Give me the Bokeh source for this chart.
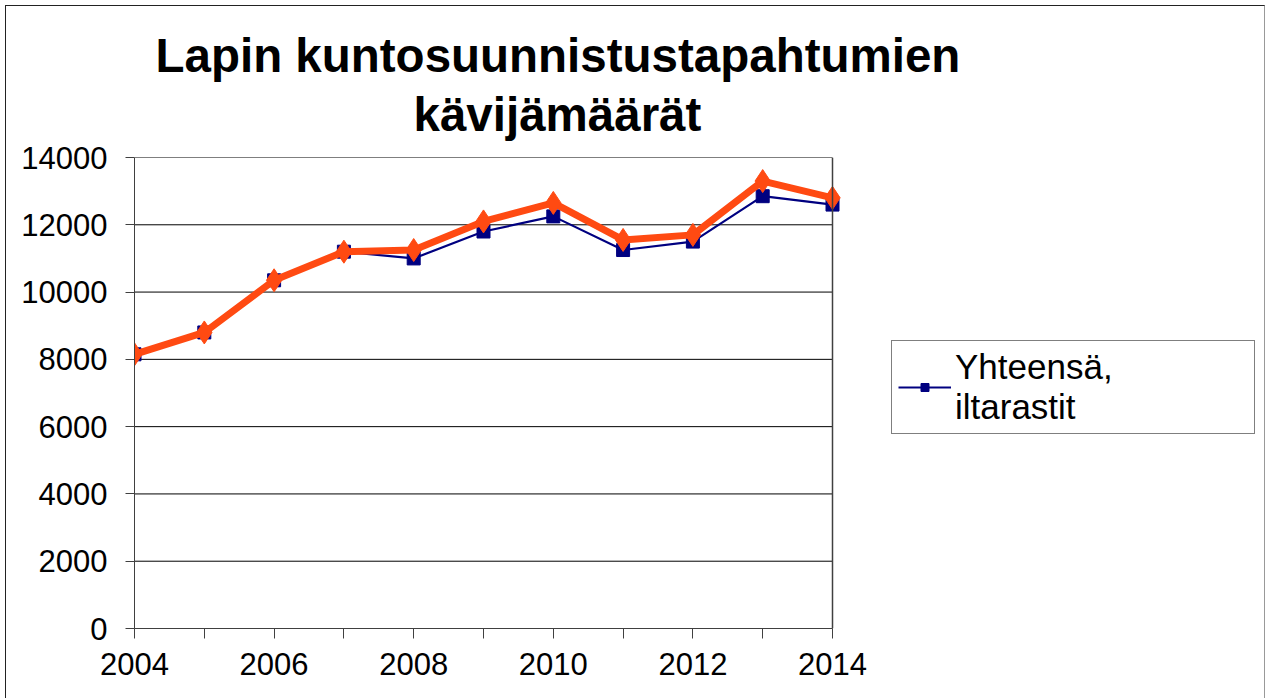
from bokeh.plotting import figure
from bokeh.models import (Range1d, FixedTicker, Legend, LegendItem, Title, Span)
from bokeh.embed import file_html
from bokeh.resources import INLINE

# ---- data ----
years = [2004, 2005, 2006, 2007, 2008, 2009, 2010, 2011, 2012, 2013, 2014]
iltarastit = [8150, 8800, 10350, 11200, 11000, 11800, 12250, 11250, 11500, 12850, 12600]
kaikki = [8150, 8800, 10350, 11200, 11250, 12100, 12650, 11550, 11700, 13300, 12800]
y_ticks = [0, 2000, 4000, 6000, 8000, 10000, 12000, 14000]
title_lines = ["Lapin kuntosuunnistustapahtumien", "kävijämäärät"]
legend_label = "Yhteensä,\niltarastit"

FONT = "Liberation Sans"

# layout (pixels)
PLOT_W = 698          # width of the plotted area (2004..2014)
FRAME_W = 1130        # frame extends to the right so the legend can sit beside the plot
FRAME_H = 471
x_end = years[0] + (years[-1] - years[0]) * FRAME_W / PLOT_W

p = figure(frame_width=FRAME_W, frame_height=FRAME_H, output_backend="svg",
           toolbar_location=None,
           x_range=Range1d(years[0], x_end), y_range=Range1d(y_ticks[0], y_ticks[-1]),
           min_border_left=128, min_border_right=0, min_border_top=151,
           min_border_bottom=70)
p.styles = {"border": "1px solid #222222", "border-right-color": "#999999",
            "border-bottom": "none", "margin-left": "5px", "margin-top": "5px"}

# title: two lines, second line closest to the plot area
p.title = None
p.add_layout(Title(text=title_lines[1], align="left", offset=279,
                   text_font=FONT, text_font_size="47.5px", text_font_style="bold",
                   text_color="black", standoff=34), "above")
p.add_layout(Title(text=title_lines[0], align="left", offset=21,
                   text_font=FONT, text_font_size="47.5px", text_font_style="bold",
                   text_color="black", standoff=-27), "above")

# horizontal gridlines limited to the plot area
p.segment(x0=[years[0]] * len(y_ticks), x1=[years[-1]] * len(y_ticks),
          y0=y_ticks, y1=y_ticks, line_color="black", line_width=1)
# right border of plot area
p.add_layout(Span(location=years[-1], dimension="height",
                  line_color="#404040", line_width=1.5))

# blue series (in legend)
r_blue = p.line(years, iltarastit, line_color="#000080", line_width=2.2)
r_blue_m = p.scatter(years, iltarastit, marker="square", size=13,
                     fill_color="#000080", line_color="#000080")
# orange series
p.line(years, kaikki, line_color="#FF4A12", line_width=7, line_join="round")
p.scatter(years, kaikki, marker="diamond", size=23,
          fill_color="#FF4A12", line_color="#FF4A12")

# axes
for ax in (p.xaxis[0], p.yaxis[0]):
    ax.axis_line_color = "#404040"
    ax.major_tick_line_color = "#404040"
    ax.minor_tick_line_color = None
    ax.major_label_text_font = FONT
    ax.major_label_text_font_size = "31px"
    ax.major_label_text_color = "black"
    ax.major_tick_in = 0

p.xaxis.ticker = FixedTicker(ticks=years)
p.xaxis.bounds = (years[0], years[-1])
p.xaxis.major_label_overrides = {y: (str(y) if y % 2 == 0 else "") for y in years}
p.xaxis.major_tick_out = 10
p.xaxis.major_label_standoff = 14
p.yaxis.ticker = FixedTicker(ticks=y_ticks)
p.yaxis.major_tick_out = 9
p.yaxis.major_label_standoff = 18

p.xgrid.grid_line_color = None
p.ygrid.grid_line_color = None
p.outline_line_color = None

legend = Legend(items=[LegendItem(label=legend_label, renderers=[r_blue, r_blue_m])],
                location=(757, 194), label_text_font=FONT, label_text_font_size="35px",
                label_text_color="black", glyph_width=53, glyph_height=20,
                label_standoff=4, padding=6, label_width=293, margin=0,
                border_line_color="black", border_line_width=1,
                background_fill_color="white", background_fill_alpha=1)
p.add_layout(legend, "center")

open("out.html", "w").write(file_html(p, INLINE))
